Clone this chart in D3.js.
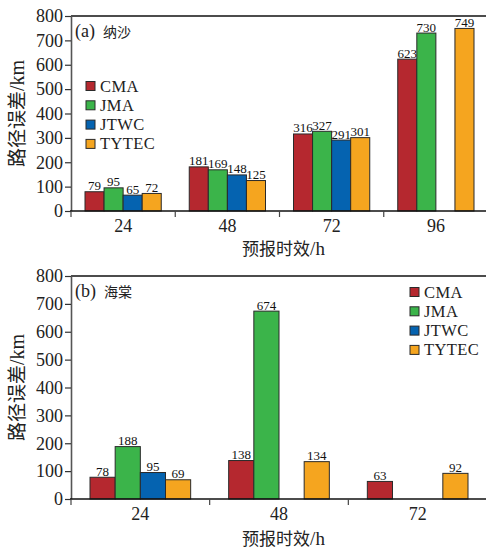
<!DOCTYPE html>
<html>
<head>
<meta charset="utf-8">
<script src="https://cdn.jsdelivr.net/npm/d3@7"></script>
<style>
  html, body { margin: 0; padding: 0; background: #fff; }
  svg { display: block; }
  .num { font-family: "Liberation Serif", "Times New Roman", serif; }
  .cjk { font-family: "Noto Sans CJK SC", sans-serif; }
</style>
</head>
<body>
<svg id="chart" width="486" height="551"></svg>
<script>
// Track errors (km) by forecast lead time
const seriesNames = ["CMA", "JMA", "JTWC", "TYTEC"];
const seriesColors = ["#b5282f", "#3bb44a", "#0563b0", "#f5a51f"];

// (a) 纳沙
const leadsA = ["24", "48", "72", "96"];
const cmaA   = [79, 181, 316, 623];
const jmaA   = [95, 169, 327, 730];
const jtwcA  = [65, 148, 291, null];
const tytecA = [72, 125, 301, 749];

// (b) 海棠
const leadsB = ["24", "48", "72"];
const cmaB   = [78, 138, 63];
const jmaB   = [188, 674, null];
const jtwcB  = [95, null, null];
const tytecB = [69, 134, 92];

const yTicks = [0, 100, 200, 300, 400, 500, 600, 700, 800];

const svg = d3.select("#chart");

function panel(cfg) {
  const { leads, series, top, bottom, left, right, innerPad, label, labelName,
          legendX, legendY, tickY, titleY } = cfg;
  const g = svg.append("g");

  const x = d3.scaleBand().domain(leads).range([left, right]).padding(0);
  const x1 = d3.scaleBand().domain(seriesNames)
    .range([innerPad, x.bandwidth() - innerPad]).padding(0);
  const y = d3.scaleLinear().domain([0, 800]).range([bottom, top]);

  // bars
  seriesNames.forEach((name, si) => {
    const vals = series[si];
    const data = leads.map((l, i) => ({ lead: l, v: vals[i] })).filter(d => d.v != null);
    g.selectAll(null).data(data).enter().append("rect")
      .attr("x", d => x(d.lead) + x1(name))
      .attr("y", d => y(d.v))
      .attr("width", x1.bandwidth())
      .attr("height", d => y(0) - y(d.v))
      .attr("fill", seriesColors[si])
      .attr("stroke", "#2a2a2a")
      .attr("stroke-width", 1);
    g.selectAll(null).data(data).enter().append("text")
      .attr("class", "num")
      .attr("x", d => x(d.lead) + x1(name) + x1.bandwidth() / 2)
      .attr("y", d => y(d.v) - 1.5)
      .attr("text-anchor", "middle")
      .attr("font-size", 13)
      .attr("fill", "#111")
      .text(d => d.v);
  });

  // top frame line
  g.append("line")
    .attr("x1", left).attr("x2", 486).attr("y1", top).attr("y2", top)
    .attr("stroke", "#111").attr("stroke-width", 1.5);

  // y axis
  const yAxis = g.append("g").attr("transform", `translate(${left},0)`)
    .call(d3.axisLeft(y).tickValues(yTicks).tickSize(6).tickPadding(2).tickSizeOuter(0));
  yAxis.select(".domain").attr("stroke", "#555").attr("stroke-width", 1.6);
  yAxis.selectAll(".tick line").attr("stroke", "#333").attr("stroke-width", 1.2);
  yAxis.selectAll(".tick text")
    .attr("class", "num").attr("font-size", 18).attr("fill", "#222");

  // x axis baseline and boundary ticks
  g.append("line")
    .attr("x1", left - 1).attr("x2", 486).attr("y1", bottom).attr("y2", bottom)
    .attr("stroke", "#111").attr("stroke-width", 1.5);
  const bounds = leads.slice(1).map(l => x(l));
  g.selectAll(null).data([left].concat(bounds)).enter().append("line")
    .attr("x1", d => d).attr("x2", d => d)
    .attr("y1", bottom).attr("y2", bottom + 6)
    .attr("stroke", "#444").attr("stroke-width", 1.2);
  g.selectAll(null).data(leads).enter().append("text")
    .attr("class", "num")
    .attr("x", d => x(d) + x.bandwidth() / 2)
    .attr("y", tickY)
    .attr("text-anchor", "middle")
    .attr("font-size", 18)
    .attr("fill", "#222")
    .text(d => d);

  // axis titles
  const xt = g.append("text")
    .attr("x", (left + 486) / 2 + 5).attr("y", titleY)
    .attr("text-anchor", "middle").attr("fill", "#222");
  xt.append("tspan").attr("class", "cjk").attr("font-size", 17).text("预报时效");
  xt.append("tspan").attr("class", "num").attr("font-size", 19).text("/h");

  const yt = g.append("text")
    .attr("transform", `translate(24,${(top + bottom) / 2}) rotate(-90)`)
    .attr("text-anchor", "middle").attr("fill", "#222");
  yt.append("tspan").attr("class", "cjk").attr("font-size", 19).text("路径误差");
  yt.append("tspan").attr("class", "num").attr("font-size", 20).text("/km");

  // panel label
  const pl = g.append("text").attr("x", left + 4).attr("y", top + 21).attr("fill", "#222");
  pl.append("tspan").attr("class", "num").attr("font-size", 18).text(label);
  pl.append("tspan").attr("class", "cjk").attr("font-size", 14).attr("dx", 8).text(labelName);

  // legend
  const lg = g.append("g");
  seriesNames.forEach((name, i) => {
    const cy = legendY + i * 19.3;
    lg.append("rect")
      .attr("x", legendX).attr("y", cy - 4.5)
      .attr("width", 9).attr("height", 9)
      .attr("fill", seriesColors[i]).attr("stroke", "#2a2a2a").attr("stroke-width", 1);
    lg.append("text")
      .attr("class", "num")
      .attr("x", legendX + 14).attr("y", cy + 5.5)
      .attr("font-size", 16.5).attr("letter-spacing", 0.4)
      .attr("fill", "#222")
      .text(name);
  });
}

panel({
  leads: leadsA, series: [cmaA, jmaA, jtwcA, tytecA],
  top: 16, bottom: 211, left: 71, right: 488, innerPad: 14,
  label: "(a)", labelName: "纳沙",
  legendX: 86, legendY: 86, tickY: 232, titleY: 255
});

panel({
  leads: leadsB, series: [cmaB, jmaB, jtwcB, tytecB],
  top: 276, bottom: 499, left: 71, right: 487, innerPad: 19,
  label: "(b)", labelName: "海棠",
  legendX: 410, legendY: 292, tickY: 520, titleY: 545
});
</script>
</body>
</html>
